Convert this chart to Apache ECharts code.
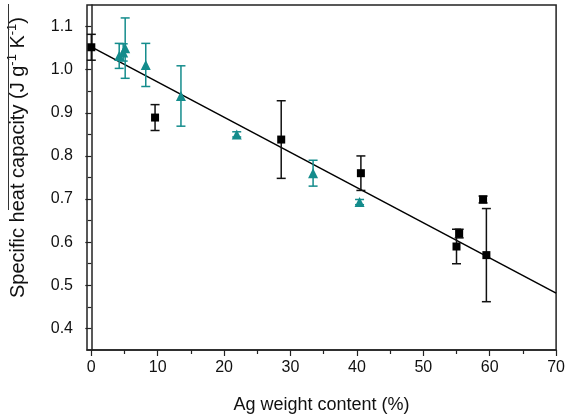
<!DOCTYPE html>
<html>
<head>
<meta charset="utf-8">
<script src="https://cdn.jsdelivr.net/npm/echarts@6/dist/echarts.min.js"></script>
<style>html,body{margin:0;padding:0;background:#fff}#c{width:568px;height:419px}</style>
</head>
<body>
<div id="c"></div>
<script>
// ---- data ----
const blackX = [0, 9.6, 28.6, 40.6, 55.0, 55.4, 59.0, 59.5];
const blackY = [1.052, 0.889, 0.838, 0.760, 0.590, 0.620, 0.699, 0.570];
const blackErr = [0.03, 0.03, 0.09, 0.04, 0.04, 0.01, 0.008, 0.108];
const tealX = [4.2, 4.8, 5.1, 8.2, 13.5, 21.9, 33.4, 40.4];
const tealY = [1.032, 1.040, 1.050, 1.011, 0.939, 0.850, 0.760, 0.693];
const tealErr = [0.029, 0.02, 0.07, 0.05, 0.07, 0.006, 0.03, 0.006];
const fitX = [0, 70];
const fitY = [1.053, 0.482];
const xTicks = [0, 10, 20, 30, 40, 50, 60, 70];
const xMinorTicks = [5, 15, 25, 35, 45, 55, 65];
const yTicks = [0.4, 0.5, 0.6, 0.7, 0.8, 0.9, 1.0, 1.1];
const yMinorTicks = [0.45, 0.55, 0.65, 0.75, 0.85, 0.95, 1.05];
const xTitle = 'Ag weight content (%)';

const FONT = 'Liberation Sans, Arial, sans-serif';
const AXC = '#222';
const TEAL = '#148c8c';

function zip3(a, b, c) { return a.map((v, i) => [v, b[i], c[i]]); }
function zip2(a, b) { return a.map((v, i) => [v, b[i]]); }

function errRender(color) {
  return function (params, api) {
    const x = api.value(0), y = api.value(1), e = api.value(2);
    const lo = api.coord([x, y - e]);
    const hi = api.coord([x, y + e]);
    const w = 4.5;
    const st = { stroke: color, lineWidth: 1.5 };
    return {
      type: 'group',
      children: [
        { type: 'line', shape: { x1: lo[0], y1: lo[1], x2: hi[0], y2: hi[1] }, style: st },
        { type: 'line', shape: { x1: lo[0] - w, y1: lo[1], x2: lo[0] + w, y2: lo[1] }, style: st },
        { type: 'line', shape: { x1: hi[0] - w, y1: hi[1], x2: hi[0] + w, y2: hi[1] }, style: st }
      ]
    };
  };
}

const chart = echarts.init(document.getElementById('c'), null, { renderer: 'canvas' });
const xMin = -0.65, xMax = 70, yMin = 0.35, yMax = 1.15;

chart.setOption({
  animation: false,
  backgroundColor: '#fff',
  grid: { left: 87, right: 9, top: 5, bottom: 65, show: true, borderColor: AXC, borderWidth: 1.5, backgroundColor: 'transparent' },
  xAxis: [
    {
      type: 'value', min: xMin, max: xMax, position: 'bottom',
      splitLine: { show: false },
      axisLine: { lineStyle: { color: AXC, width: 1.5 } },
      axisTick: { show: true, inside: false, length: 6, lineStyle: { color: AXC, width: 1.2 }, customValues: xTicks },
      axisLabel: { customValues: xTicks, color: '#111', fontSize: 16, fontFamily: FONT, margin: 10, formatter: v => String(Math.round(v)) },
      name: xTitle, nameLocation: 'middle', nameGap: 46,
      nameTextStyle: { fontSize: 18, fontFamily: FONT, color: '#111' }
    },
    {
      type: 'value', min: xMin, max: xMax, position: 'bottom',
      splitLine: { show: false },
      axisLine: { show: false },
      axisTick: { show: true, inside: false, length: 4, lineStyle: { color: AXC, width: 1.2 }, customValues: xMinorTicks },
      axisLabel: { show: false }
    }
  ],
  yAxis: [
    {
      type: 'value', min: yMin, max: yMax, position: 'left',
      splitLine: { show: false },
      axisLine: { lineStyle: { color: AXC, width: 1.5 } },
      axisTick: { show: true, inside: false, length: 6, lineStyle: { color: AXC, width: 1.2 }, customValues: yTicks },
      axisLabel: { customValues: yTicks, color: '#111', fontSize: 16, fontFamily: FONT, margin: 14, formatter: v => v.toFixed(1) }
    },
    {
      type: 'value', min: yMin, max: yMax, position: 'left',
      splitLine: { show: false },
      axisLine: { show: false },
      axisTick: { show: true, inside: false, length: 3.5, lineStyle: { color: AXC, width: 1.2 }, customValues: yMinorTicks },
      axisLabel: { show: false }
    }
  ],
  graphic: [
    {
      type: 'text', left: 6, top: 17, rotation: Math.PI / 2,
      style: {
        text: '{a|Specific heat capacity (J g}{s|-1}{a| K}{s|-1}{a|)}',
        rich: {
          a: { fontSize: 20, fontFamily: FONT, fill: '#111', lineHeight: 24 },
          s: { fontSize: 13, fontFamily: FONT, fill: '#111', verticalAlign: 'top', lineHeight: 24, padding: [0, 0, 11, 0] }
        }
      }
    },
    {
      type: 'line', shape: { x1: 8.5, y1: 4, x2: 8.5, y2: 210 },
      style: { stroke: '#333', lineWidth: 1 }
    }
  ],
  series: [
    {
      type: 'line', xAxisIndex: 0, yAxisIndex: 0,
      data: zip2(fitX, fitY), symbol: 'none',
      lineStyle: { color: '#000', width: 1.5 }, z: 1
    },
    {
      type: 'custom', xAxisIndex: 0, yAxisIndex: 0,
      data: zip3(blackX, blackY, blackErr), renderItem: errRender('#111'), z: 2
    },
    {
      type: 'custom', xAxisIndex: 0, yAxisIndex: 0,
      data: zip3(tealX, tealY, tealErr), renderItem: errRender(TEAL), z: 2
    },
    {
      type: 'scatter', xAxisIndex: 0, yAxisIndex: 0,
      data: zip2(blackX, blackY), symbol: 'rect', symbolSize: 8,
      itemStyle: { color: '#000', opacity: 1 }, z: 3
    },
    {
      type: 'scatter', xAxisIndex: 0, yAxisIndex: 0,
      data: zip2(tealX, tealY), symbol: 'triangle', symbolSize: 10,
      itemStyle: { color: TEAL, opacity: 1 }, z: 3
    }
  ]
});
</script>
</body>
</html>
